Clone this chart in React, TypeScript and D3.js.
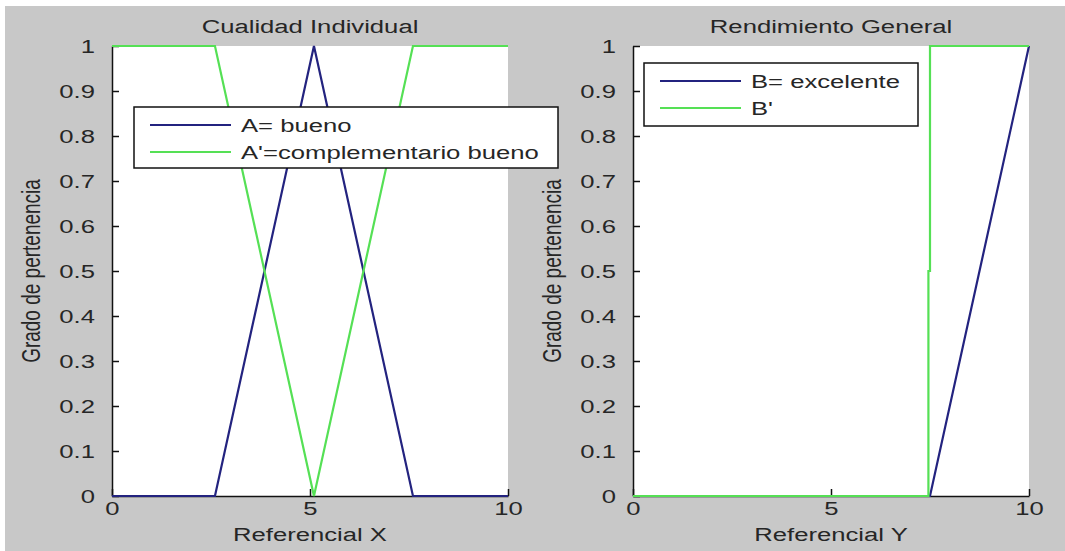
import * as d3 from 'd3';
import { useEffect, useRef } from 'react';

const W = 1065;
const H = 551;
const FONT = '"Liberation Sans", Arial, sans-serif';
const FS = 19;
const SX = 1.35; // the source screenshot is stretched sideways

// tick values shared by both panels
const xTicks = [0, 5, 10];
const yTicks = [0, 0.1, 0.2, 0.3, 0.4, 0.5, 0.6, 0.7, 0.8, 0.9, 1];

// left panel: A = bueno and its complement
const aX = [0, 2.6, 5.1, 7.6, 10];
const aBueno = [0, 0, 1, 0, 0];
const aComp = [1, 1, 0, 1, 1];

// right panel: B = excelente and its complement
const bX = [0, 7.5, 10];
const bExcelente = [0, 0, 1];
const bCompX = [0, 7.46, 7.46, 7.5, 7.5, 10];
const bComp = [0, 0, 0.5, 0.5, 1, 1];

const BLUE = '#23237f';
const GREEN = '#55e055';
const INK = '#262626';

type Series = { label: string; xs: number[]; ys: number[]; color: string };

function SText({
    x,
    y,
    anchor = 'start',
    rotate = 0,
    children,
}: {
    x: number;
    y: number;
    anchor?: 'start' | 'middle' | 'end';
    rotate?: number;
    children: string;
}) {
    return (
        <text
            transform={`translate(${x},${y}) scale(${SX},1) rotate(${rotate})`}
            textAnchor={anchor}
            fontFamily={FONT}
            fontSize={FS}
            fill={INK}
        >
            {children}
        </text>
    );
}

type PanelProps = {
    left: number;
    right: number;
    top: number;
    bottom: number;
    title: string;
    xLabel: string;
    series: Series[];
    legend: { x: number; y: number; w: number; h: number };
};

function Panel({ left, right, top, bottom, title, xLabel, series, legend }: PanelProps) {
    const xAxisRef = useRef<SVGGElement>(null);
    const yAxisRef = useRef<SVGGElement>(null);

    const xScale = d3.scaleLinear().domain([0, 10]).range([left, right]);
    const yScale = d3.scaleLinear().domain([0, 1]).range([bottom, top]);

    useEffect(() => {
        const gx = d3.select(xAxisRef.current);
        gx.selectAll('*').remove();
        gx.call(
            d3
                .axisBottom(xScale)
                .tickValues(xTicks)
                .tickFormat(d3.format('d'))
                .tickSizeInner(-7)
                .tickSizeOuter(0)
                .tickPadding(6)
        );
        const gy = d3.select(yAxisRef.current);
        gy.selectAll('*').remove();
        gy.call(
            d3
                .axisLeft(yScale)
                .tickValues(yTicks)
                .tickFormat((d) => String(d))
                .tickSizeInner(-7)
                .tickSizeOuter(0)
                .tickPadding(0)
        );
        gy.selectAll('.tick text').attr('x', -17 / SX);
        [gx, gy].forEach((g) => {
            g.attr('font-family', FONT).attr('font-size', FS);
            g.selectAll('path,line').attr('stroke', '#111').attr('stroke-width', 1.5);
            g.selectAll('text').attr('fill', INK).attr('transform', `scale(${SX},1)`);
        });
    }, [left, right, top, bottom]);

    const line = d3
        .line<[number, number]>()
        .x((d) => xScale(d[0]))
        .y((d) => yScale(d[1]));

    return (
        <g>
            <rect x={left} y={top} width={right - left} height={bottom - top} fill="#fff" />
            <g ref={xAxisRef} transform={`translate(0,${bottom})`} />
            <g ref={yAxisRef} transform={`translate(${left},0)`} />
            {series.map((s) => (
                <path
                    key={s.label}
                    d={line(s.xs.map((x, i) => [x, s.ys[i]] as [number, number])) || ''}
                    fill="none"
                    stroke={s.color}
                    strokeWidth={2.2}
                />
            ))}
            <SText x={(left + right) / 2} y={top - 13} anchor="middle">
                {title}
            </SText>
            <SText x={(left + right) / 2} y={bottom + 45} anchor="middle">
                {xLabel}
            </SText>
            <SText x={left - 72} y={(top + bottom) / 2} anchor="middle" rotate={-90}>
                Grado de pertenencia
            </SText>
            <g transform={`translate(${legend.x},${legend.y})`}>
                <rect width={legend.w} height={legend.h} fill="#fff" stroke="#111" strokeWidth={1.5} />
                {series.map((s, i) => (
                    <g key={s.label} transform={`translate(0,${18 + i * 27})`}>
                        <line x1={16} x2={97} y1={0} y2={0} stroke={s.color} strokeWidth={2} />
                        <SText x={107} y={7}>
                            {s.label}
                        </SText>
                    </g>
                ))}
            </g>
        </g>
    );
}

export default function App() {
    return (
        <svg width={W} height={H} style={{ position: 'absolute', left: 0, top: 0 }}>
            <rect width={W} height={H} fill="#fff" />
            <rect x={5} y={6} width={W - 5} height={H - 6} fill="#c8c8c8" />
            <Panel
                left={112}
                right={508}
                top={46}
                bottom={496}
                title="Cualidad Individual"
                xLabel="Referencial X"
                series={[
                    { label: 'A= bueno', xs: aX, ys: aBueno, color: BLUE },
                    { label: "A'=complementario bueno", xs: aX, ys: aComp, color: GREEN },
                ]}
                legend={{ x: 134, y: 107, w: 424, h: 61 }}
            />
            <Panel
                left={633}
                right={1029}
                top={46}
                bottom={496}
                title="Rendimiento General"
                xLabel="Referencial Y"
                series={[
                    { label: 'B= excelente', xs: bX, ys: bExcelente, color: BLUE },
                    { label: "B'", xs: bCompX, ys: bComp, color: GREEN },
                ]}
                legend={{ x: 644, y: 63, w: 274, h: 63 }}
            />
        </svg>
    );
}
